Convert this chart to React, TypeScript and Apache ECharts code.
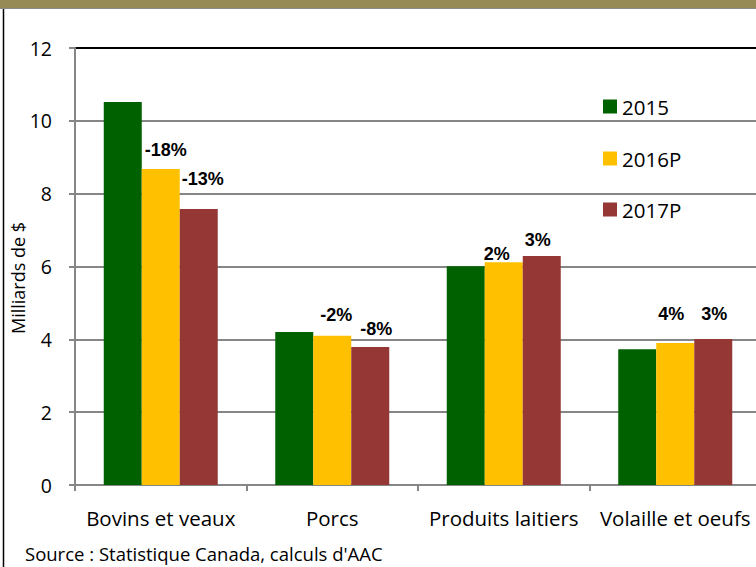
import React, { useEffect, useRef } from "react";
import * as echarts from "echarts";

const categories = ["Bovins et veaux", "Porcs", "Produits laitiers", "Volaille et oeufs"];
const seriesNames = ["2015", "2016P", "2017P"];
const values2015 = [10.52, 4.2, 6.01, 3.73];
const values2016 = [8.68, 4.1, 6.12, 3.9];
const values2017 = [7.58, 3.79, 6.29, 4.01];
const labels2016 = ["-18%", "-2%", "2%", "4%"];
const labels2017 = ["-13%", "-8%", "3%", "3%"];
const yTicks = [0, 2, 4, 6, 8, 10, 12];

// label offsets (style) relative to bar top-left
const offsets2016: [number, number][] = [[3, -19], [7, -21], [-1, -8], [2, -29]];
const offsets2017: [number, number][] = [[2, -30], [9, -18], [2, -16], [7, -25]];

const colors = ["#006100", "#FFC000", "#953735"];
const FONT = "'Open Sans', sans-serif";

export default function App() {
  const ref = useRef<HTMLDivElement>(null);
  useEffect(() => {
    if (!ref.current) return;
    const chart = echarts.init(ref.current, undefined, { renderer: "svg" });
    const mkLabel = (text: string, off: [number, number]) => ({
      show: true,
      formatter: text,
      position: off,
      align: "left",
      verticalAlign: "middle",
      fontFamily: "'Liberation Sans', Arial, sans-serif",
      fontWeight: "bold",
      fontSize: 18,
      color: "#000",
    });
    const legendTops = [91, 143, 194];
    chart.setOption({
      animation: false,
      backgroundColor: "#fff",
      grid: { left: 75, top: 48, width: 686, height: 437, containLabel: false, outerBoundsMode: "none" },
      legend: seriesNames.map((n, i) => ({
        data: [n],
        left: 598,
        top: legendTops[i],
        itemWidth: 14,
        itemHeight: 14,
        itemGap: 0,
        icon: "rect",
        textStyle: { fontFamily: FONT, fontSize: 20.5, color: "#000", lineHeight: 18, padding: [0, 0, 0, 0] },
      })),
      xAxis: {
        type: "category",
        data: categories,
        axisLine: { show: true, lineStyle: { color: "#868686", width: 2 } },
        axisTick: { show: true, length: 6, lineStyle: { color: "#868686", width: 2 } },
        axisLabel: { interval: 0, margin: 22, fontFamily: FONT, fontSize: 20.5, color: "#000" },
        splitLine: { show: false },
      },
      yAxis: {
        type: "value",
        min: 0,
        max: 12,
        interval: 2,
        axisLine: { show: true, lineStyle: { color: "#868686", width: 2 } },
        axisTick: { show: true, length: 6, lineStyle: { color: "#868686", width: 2 } },
        axisLabel: {
          margin: 23,
          fontFamily: FONT,
          fontSize: 19.5,
          color: "#000",
          formatter: (v: number) => (yTicks.includes(v) ? String(v) : ""),
        },
        splitLine: {
          show: true,
          lineStyle: {
            color: ["#868686", "#868686", "#868686", "#868686", "#868686", "#868686", "#000000"],
            width: 2,
          },
        },
      },
      series: [
        {
          name: seriesNames[0],
          type: "bar",
          barWidth: 38,
          barGap: "0%",
          itemStyle: { color: colors[0] },
          data: values2015,
        },
        {
          name: seriesNames[1],
          type: "bar",
          barWidth: 38,
          barGap: "0%",
          itemStyle: { color: colors[1] },
          data: values2016.map((v, i) => ({ value: v, label: mkLabel(labels2016[i], offsets2016[i]) })),
        },
        {
          name: seriesNames[2],
          type: "bar",
          barWidth: 38,
          barGap: "0%",
          itemStyle: { color: colors[2] },
          data: values2017.map((v, i) => ({ value: v, label: mkLabel(labels2017[i], offsets2017[i]) })),
        },
      ],
      graphic: [
        { type: "rect", left: 0, top: 0, shape: { width: 756, height: 8 }, style: { fill: "#968B56" }, z: 100 },
        { type: "line", shape: { x1: 0, y1: 8.5, x2: 756, y2: 8.5 }, style: { stroke: "#8a8a8a", lineWidth: 1 }, z: 100 },
        { type: "line", shape: { x1: 3.5, y1: 9, x2: 3.5, y2: 567 }, style: { stroke: "#000", lineWidth: 1.5 }, z: 100 },
        {
          type: "text",
          x: 18,
          y: 278,
          rotation: Math.PI / 2,
          style: {
            text: "Milliards de $",
            fontFamily: FONT,
            fontSize: 18,
            fill: "#000",
            align: "center",
            verticalAlign: "middle",
          },
          z: 100,
        },
        {
          type: "text",
          left: 25,
          top: 544,
          style: { text: "Source : Statistique Canada, calculs d'AAC", fontFamily: FONT, fontSize: 18.5, fill: "#000" },
          z: 100,
        },
      ],
    });
    return () => chart.dispose();
  }, []);
  return (
    <div
      ref={ref}
      style={{ position: "fixed", left: 0, top: 0, width: 756, height: 567, background: "#fff" }}
    />
  );
}
